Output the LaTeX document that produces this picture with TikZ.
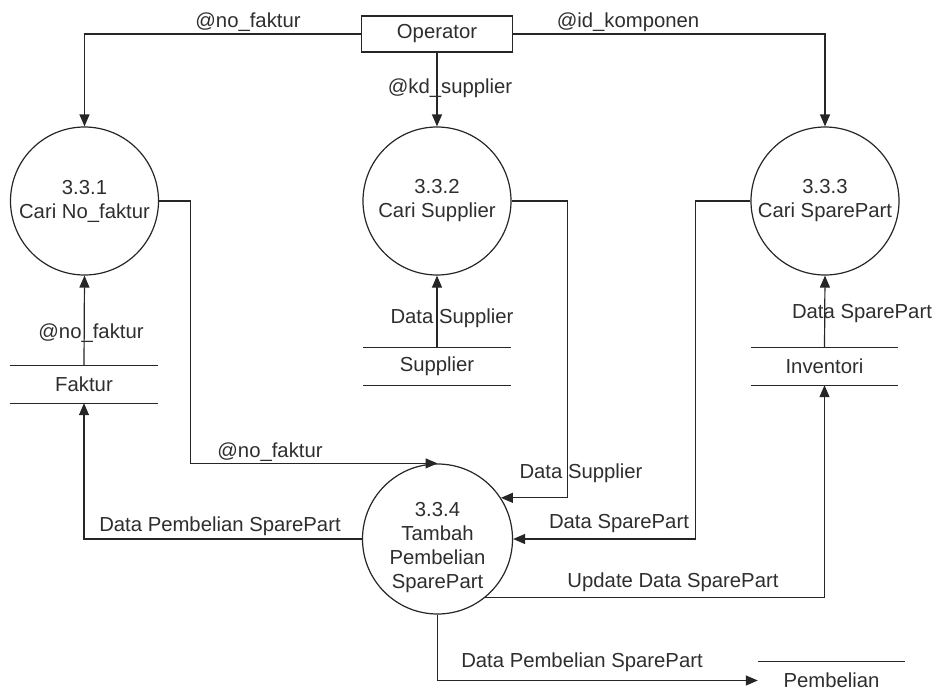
\documentclass[tikz,border=0pt]{standalone}
\usepackage{fontspec}
\setmainfont{Liberation Sans}
\usetikzlibrary{arrows.meta}
\begin{document}
\begin{tikzpicture}[x=1pt,y=-1pt,
  every node/.style={font=\fontsize{20.3}{24}\selectfont, text=black!82},
  proc/.style={circle, draw=black!85, line width=1.2pt, minimum size=148pt, inner sep=0pt, align=center},
  ent/.style={rectangle, draw=black!85, line width=1.2pt, minimum width=151pt, minimum height=36pt, inner sep=0pt},
  store/.style={rectangle, minimum height=37pt, inner sep=0pt},
  flow/.style={draw=black!85, line width=1.2pt, -{Triangle[length=12pt,width=10pt]}},
  lbl/.style={inner sep=1pt}]
\useasboundingbox (0,0) rectangle (937,693);

% external entity
\node[ent] (op) at (437,34) {Operator};

% processes
\node[proc] (p1) at (84.5,201) {3.3.1\\Cari No\_faktur};
\node[proc] (p2) at (437,201) {3.3.2\\Cari Supplier};
\node[proc] (p3) at (825,201) {3.3.3\\Cari SparePart};
\node[proc, minimum size=150pt] (p4) at (437.5,539) {};
\node[align=center] (p4t) at (437.5,548) {3.3.4\\Tambah\\Pembelian\\SparePart};

% data stores
\node[store, minimum width=148pt] (faktur) at (84,384.5) {Faktur};
\node[store, minimum width=148pt] (supp) at (437,366.5) {Supplier};
\node[store, minimum width=147pt] (inv) at (824.5,366.5) {Inventori};
\node[store, minimum width=147pt] (pemb) at (831.5,680.5) {Pembelian};
\begin{scope}[draw=black!85, line width=1.2pt]
  \draw (faktur.north west) -- (faktur.north east);
  \draw (faktur.south west) -- (faktur.south east);
  \draw (supp.north west) -- (supp.north east);
  \draw (supp.south west) -- (supp.south east);
  \draw (inv.north west) -- (inv.north east);
  \draw (inv.south west) -- (inv.south east);
  \draw (pemb.north west) -- (pemb.north east);
\end{scope}

% flows from the operator
\draw[flow] (op.west) -| (p1.north);
\node[lbl] (l1) at (248,22) {@no\_faktur};
\draw[flow] (op.south) -- (p2.north);
\node[lbl] (l2) at (450,88) {@kd\_supplier};
\draw[flow] (op.east) -| (p3.north);
\node[lbl] (l3) at (628,22) {@id\_komponen};

% reads from the stores
\draw[flow] (faktur.north) -- (p1.south);
\node[lbl] (l4) at (91,333) {@no\_faktur};
\draw[flow] (supp.north) -- (p2.south);
\node[lbl] (l5) at (452,318) {Data Supplier};
\draw[flow] (inv.north) -- (p3.south);
\node[lbl] (l6) at (862,314) {Data SparePart};

% into process 3.3.4
\draw[flow] (p1.east) -- ++(31,0) |- (p4.north);
\node[lbl] (l7) at (270,452) {@no\_faktur};
\draw[flow] (p2.east) -- ++(56,0) |- (p4.33);
\node[lbl] (l8) at (581,473) {Data Supplier};
\draw[flow] (p3.west) -- ++(-55,0) |- (p4.east);
\node[lbl] (l9) at (619,524) {Data SparePart};

% out of process 3.3.4
\draw[flow] (p4.-51) -| (inv.south);
\node[lbl] (l10) at (673,582) {Update Data SparePart};
\draw[flow] (p4.west) -| (faktur.south);
\node[lbl] (l11) at (220,526) {Data Pembelian SparePart};
\draw[flow] (p4.south) |- (pemb.west);
\node[lbl] (l12) at (582,662) {Data Pembelian SparePart};
\end{tikzpicture}
\end{document}
